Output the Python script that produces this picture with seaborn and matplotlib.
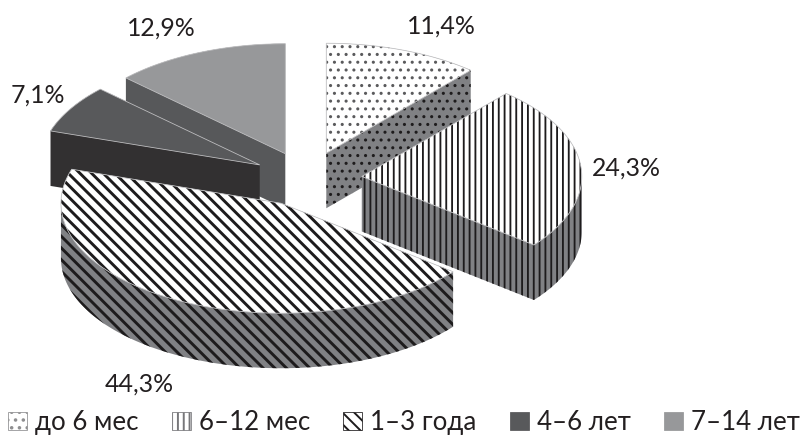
import matplotlib
matplotlib.use("Agg")
import matplotlib.pyplot as plt
from matplotlib.patches import Patch, Polygon
import numpy as np
import seaborn as sns

# Age groups and their shares, percent
categories = ["до 6 мес", "6–12 мес", "1–3 года", "4–6 лет", "7–14 лет"]
shares = [11.4, 24.3, 44.3, 7.1, 12.9]

top_colors = ["#ffffff", "#ffffff", "#ffffff", "#58595b", "#97989a"]
wall_colors = ["#808184", "#808184", "#808184", "#323031", "#57585a"]
ink_colors = ["#5a5a5c", "#1d1b1c", "#1d1b1c", "#58595b", "#97989a"]
legend_edges = ["#8e8e90", "#77777a", "#1d1b1c", "#58595b", "#97989a"]
hatches = ["...", "||||", "\\\\\\\\", None, None]
hatch_widths = [0.8, 0.95, 1.5, 0.8, 0.8]
paint_order = [4, 3, 0, 1, 2]

# Percentage labels, placed by pixel position (centre x, centre y)
label_px = [(441, 26), (626, 168), (139, 384), (38, 95), (161, 28)]

W, H, DPI = 806, 436, 140
RADIUS_PX, TILT, DEPTH_PX = 220, 0.5, 55
CENTER_PX = (307, 179)

sns.set_theme(style="white")
plt.rcParams["font.family"] = ["Lato", "Noto Sans", "DejaVu Sans"]
plt.rcParams["hatch.linewidth"] = 1.0

fig, ax = plt.subplots(figsize=(W / DPI, H / DPI), dpi=DPI)
fig.subplots_adjust(0, 0, 1, 1)

wedges, _ = ax.pie(
    shares,
    explode=[0.25] * len(shares),
    colors=sns.color_palette(top_colors),
    hatch=hatches,
    startangle=90,
    counterclock=False,
    wedgeprops={"linewidth": 0},
)

# One data unit on x is RADIUS_PX pixels; y is squashed to give the tilted disc
ax.set_aspect("auto")
ax.set_xlim(-CENTER_PX[0] / RADIUS_PX, (W - CENTER_PX[0]) / RADIUS_PX)
y_unit = RADIUS_PX * TILT
ax.set_ylim((CENTER_PX[1] - H) / y_unit, CENTER_PX[1] / y_unit)
depth = DEPTH_PX / y_unit


def outline(wedge):
    """Apex and arc points of a pie wedge in data coordinates."""
    angles = np.radians(np.linspace(wedge.theta1, wedge.theta2, 120))
    cx, cy = wedge.center
    arc = np.column_stack([cx + wedge.r * np.cos(angles), cy + wedge.r * np.sin(angles)])
    return np.vstack([[cx, cy], arc])


def convex_hull(points):
    pts = sorted(map(tuple, points))

    def half(seq):
        chain = []
        for p in seq:
            while len(chain) > 1:
                a, b = chain[-2], chain[-1]
                if (b[0] - a[0]) * (p[1] - a[1]) - (b[1] - a[1]) * (p[0] - a[0]) > 0:
                    break
                chain.pop()
            chain.append(p)
        return chain[:-1]

    return np.array(half(pts) + half(pts[::-1]))


def set_hatch_width(patch, width):
    if hasattr(patch, "set_hatch_linewidth"):
        patch.set_hatch_linewidth(width)


# Each slice gets an extruded body underneath its top face
for rank, i in enumerate(paint_order):
    wedge = wedges[i]
    shape = outline(wedge)
    body = convex_hull(np.vstack([shape, shape - [0, depth]]))
    wall = Polygon(body, closed=True, facecolor=wall_colors[i],
                   edgecolor="#1d1b1c" if i == 0 else ink_colors[i], hatch=hatches[i],
                   linewidth=0, zorder=10 + 3 * rank)
    set_hatch_width(wall, hatch_widths[i])
    ax.add_patch(wall)
    wedge.set_edgecolor(ink_colors[i])
    wedge.set_linewidth(0)
    wedge.set_zorder(11 + 3 * rank)
    set_hatch_width(wedge, hatch_widths[i])
    ax.add_patch(Polygon(shape, closed=True, fill=False, edgecolor="#c4c4c6",
                         linewidth=0.4, zorder=12 + 3 * rank))

sns.despine(ax=ax, left=True, bottom=True)

for value, (px, py) in zip(shares, label_px):
    fig.text(px / W, 1 - py / H, f"{value:.1f}%".replace(".", ","),
             fontsize=12.8, color="#231f20", ha="center", va="center")

handles = [Patch(facecolor=top_colors[i], edgecolor=legend_edges[i],
                 hatch=hatches[i], linewidth=0.4)
           for i in range(len(categories))]
leg = fig.legend(handles, categories, ncol=5, frameon=False,
                 loc="lower left", bbox_to_anchor=(8 / W, 1 / H),
                 borderpad=0, borderaxespad=0, fontsize=13.3,
                 handlelength=0.74, handleheight=0.74,
                 handletextpad=0.3, columnspacing=1.29, labelcolor="#231f20")

fig.savefig("out.png", dpi=DPI)
